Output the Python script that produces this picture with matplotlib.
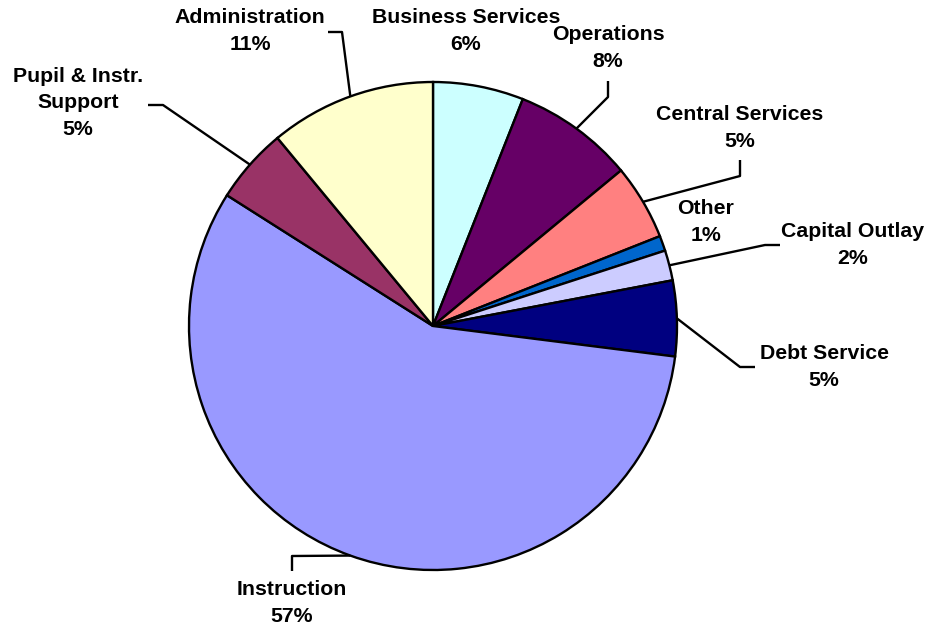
import numpy as np
import matplotlib.pyplot as plt

categories = ["Business Services", "Operations", "Central Services", "Other",
              "Capital Outlay", "Debt Service", "Instruction",
              "Pupil & Instr.\nSupport", "Administration"]
shares = [6, 8, 5, 1, 2, 5, 57, 5, 11]
colors = ["#CCFFFF", "#660066", "#FF8080", "#0066CC", "#CCCCFF",
          "#000080", "#9999FF", "#993366", "#FFFFCC"]

# label placement in pixel space (x, y from top)
label_pos = [(466, 31), (608, 48), (740, 128), (706, 222), (853, 245),
             (824, 367), (292, 603), (78, 103), (250, 31)]
# leader line: elbow point and end point near the label, None = no leader
leader_pts = [None,
              [(608, 97), (608, 81)],
              [(740, 176), (740, 160)],
              None,
              [(765, 245), (780, 245)],
              [(740, 367), (755, 367)],
              [(292, 556), (292, 571)],
              [(163, 105), (148, 105)],
              [(342, 32), (328, 32)]]

W, H = 930, 628
cx, cy, R = 433, 326, 244

fig = plt.figure(figsize=(W / 100, H / 100), dpi=100)
ax = fig.add_axes([0, 0, 1, 1])

wedges, _ = ax.pie(shares, colors=colors, startangle=90, counterclock=False,
                   center=(cx, H - cy), radius=R, frame=True,
                   wedgeprops=dict(edgecolor="black", linewidth=1.7))
ax.set_xlim(0, W)
ax.set_ylim(0, H)
ax.set_aspect("equal")
ax.axis("off")

for w, name, val, (tx, ty), pts in zip(wedges, categories, shares, label_pos, leader_pts):
    ax.text(tx, H - ty, f"{name}\n{val}%", ha="center", va="center",
            fontsize=15.3, fontweight="bold", family="Liberation Sans",
            linespacing=1.47)
    if pts is None:
        continue
    mid = np.deg2rad((w.theta1 + w.theta2) / 2)
    xs = [cx + R * np.cos(mid)] + [p[0] for p in pts]
    ys = [H - cy + R * np.sin(mid)] + [H - p[1] for p in pts]
    ax.plot(xs, ys, color="black", linewidth=1.7, solid_capstyle="butt")

fig.savefig("out.png", dpi=100)
